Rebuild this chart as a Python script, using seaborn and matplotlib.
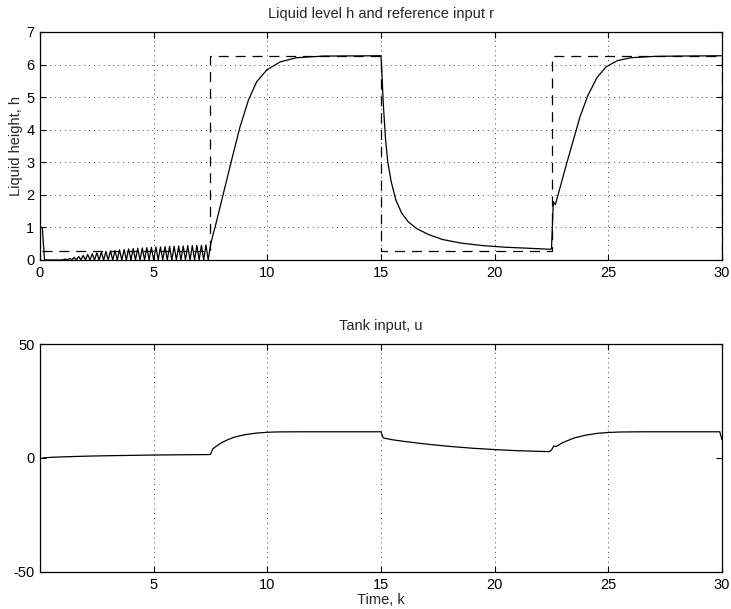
# Recreate the two-panel tank simulation chart (liquid level and tank input)
import numpy as np
import pandas as pd
import matplotlib
matplotlib.use("Agg")
import matplotlib.pyplot as plt
import seaborn as sns

# ---- data ----
# liquid level h: start, then the chattering part (valleys / peaks every 0.1 s)
h_start_t = [0.1, 0.2, 0.9]
h_start_v = [1.0, 0.0, 0.0]

osc_t = [round(1.0 + 0.1 * i, 1) for i in range(65)]   # 1.0 ... 7.4
osc_peaks = [0.03, 0.05, 0.08, 0.11, 0.14, 0.17, 0.19, 0.22, 0.24, 0.26,
             0.28, 0.29, 0.31, 0.32, 0.34, 0.35, 0.36, 0.37, 0.38, 0.39,
             0.40, 0.40, 0.41, 0.42, 0.42, 0.43, 0.43, 0.44, 0.44, 0.45,
             0.45, 0.46]
osc_valleys = [0.0] * 33

# smooth parts of h
h_rest_t = [7.5, 7.6, 7.7, 8.07, 8.43, 8.8, 9.17, 9.53, 9.97, 10.56, 11.29, 12.46, 15.0,
            15.05, 15.1, 15.2, 15.3, 15.45, 15.65, 15.9, 16.2, 16.6, 17.1, 17.7, 18.5,
            19.5, 20.5, 21.5, 22.4,
            22.5, 22.58, 22.67, 23.17, 23.76, 24.1, 24.5, 24.9, 25.4, 26.0, 27.0, 28.0, 30.0]
h_rest_v = [0.45, 0.75, 1.0, 2.05, 3.07, 4.09, 4.91, 5.47, 5.83, 6.08, 6.21, 6.26, 6.27,
            5.6, 4.8, 3.7, 3.0, 2.4, 1.85, 1.45, 1.17, 0.95, 0.78, 0.63, 0.52,
            0.44, 0.39, 0.36, 0.33,
            0.34, 1.79, 1.70, 2.97, 4.41, 5.05, 5.6, 5.93, 6.12, 6.21, 6.25, 6.26, 6.27]

# reference input r (square wave)
r_t = [0.1, 7.5, 7.5, 15.0, 15.0, 22.5, 22.5, 30.0, 30.0]
r_v = [0.28, 0.28, 6.26, 6.26, 0.28, 0.28, 6.26, 6.26, 0.28]

# tank input u
u_t = [0.1, 0.5, 1.0, 2.0, 3.0, 4.0, 5.0, 6.0, 7.4, 7.5, 7.6, 7.8, 8.0, 8.3, 8.6, 9.0,
       9.5, 10.0, 10.5, 11.5, 15.0, 15.1, 15.5, 16.0, 17.0, 18.0, 19.0, 20.0, 21.0,
       22.0, 22.4, 22.5, 22.6, 22.7, 23.0, 23.5, 24.0, 24.5, 25.0, 25.5, 26.5, 29.9, 30.0]
u_v = [0.0, 0.3, 0.5, 0.8, 1.0, 1.15, 1.3, 1.4, 1.5, 1.6, 4.0, 5.5, 6.8, 8.2, 9.3, 10.2,
       10.9, 11.3, 11.45, 11.5, 11.5, 8.8, 8.0, 7.3, 6.1, 5.1, 4.3, 3.7, 3.2,
       2.9, 2.8, 3.5, 5.3, 5.0, 6.8, 8.8, 10.0, 10.8, 11.2, 11.4, 11.5, 11.5, 8.0]

top_xticks = [0, 5, 10, 15, 20, 25, 30]
top_yticks = [0, 1, 2, 3, 4, 5, 6, 7]
bot_xticks = [5, 10, 15, 20, 25, 30]
bot_yticks = [-50, 0, 50]

# ---- build tables ----
osc_v = []
for i in range(len(osc_t)):
    osc_v.append(osc_valleys[i // 2] if i % 2 == 0 else osc_peaks[i // 2])

h_df = pd.DataFrame({"t": h_start_t + osc_t + h_rest_t,
                     "h": h_start_v + osc_v + h_rest_v})
r_df = pd.DataFrame({"t": r_t, "r": r_v})
u_df = pd.DataFrame({"t": u_t, "u": u_v})

# ---- style ----
sns.set_style("ticks")
plt.rcParams['font.family'] = ['Liberation Sans', 'DejaVu Sans']
plt.rcParams['font.size'] = 10.5
plt.rcParams['axes.unicode_minus'] = False
plt.rcParams['xtick.direction'] = 'in'
plt.rcParams['ytick.direction'] = 'in'
plt.rcParams['xtick.top'] = True
plt.rcParams['ytick.right'] = True
plt.rcParams['xtick.major.size'] = 4
plt.rcParams['ytick.major.size'] = 4
plt.rcParams['axes.linewidth'] = 0.9
plt.rcParams['axes.edgecolor'] = 'black'
plt.rcParams['xtick.color'] = 'black'
plt.rcParams['ytick.color'] = 'black'

fs = 10.5
fig = plt.figure(figsize=(7.31, 6.09), dpi=100)
ax1 = fig.add_axes([0.0547, 0.5731, 0.9330, 0.3744])
ax2 = fig.add_axes([0.0547, 0.0608, 0.9330, 0.3743])

grid_kw = dict(color='#444444', linestyle=(0, (1, 4)), linewidth=0.7)

# top panel: level and reference
sns.lineplot(data=h_df, x="t", y="h", ax=ax1, color='black', linewidth=0.9,
             estimator=None, sort=False)
sns.lineplot(data=r_df, x="t", y="r", ax=ax1, color='black', linewidth=0.9,
             estimator=None, sort=False, linestyle=(0, (8, 5.5)))
ax1.set_xlim(0, 30)
ax1.set_ylim(0, 7)
ax1.set_xticks(top_xticks)
ax1.set_yticks(top_yticks)
ax1.grid(True, **grid_kw)
ax1.set_title("Liquid level h and reference input r", fontsize=fs, pad=10)
ax1.set_xlabel("")
ax1.set_ylabel("Liquid height, h", fontsize=fs, labelpad=2)
ax1.tick_params(labelsize=fs, pad=4)

# bottom panel: tank input
sns.lineplot(data=u_df, x="t", y="u", ax=ax2, color='black', linewidth=0.9,
             estimator=None, sort=False)
ax2.set_xlim(0, 30)
ax2.set_ylim(-50, 50)
ax2.set_xticks(bot_xticks)
ax2.set_yticks(bot_yticks)
ax2.grid(True, axis='x', **grid_kw)
ax2.set_title("Tank input, u", fontsize=fs, pad=10)
ax2.set_xlabel("Time, k", fontsize=fs, labelpad=1)
ax2.set_ylabel("")
ax2.tick_params(labelsize=fs, pad=4)

for ax in (ax1, ax2):
    for s in ax.spines.values():
        s.set_visible(True)
    ax.set_axisbelow(True)

fig.savefig("out.png", dpi=100)
